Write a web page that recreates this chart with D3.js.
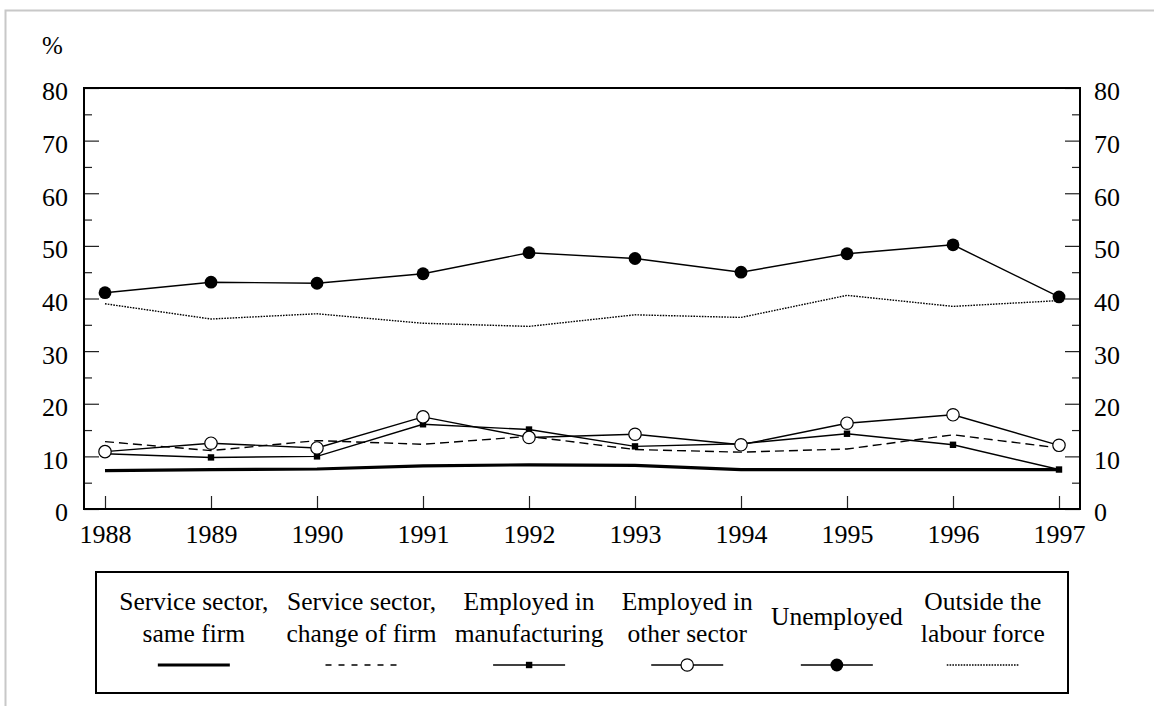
<!DOCTYPE html>
<html>
<head>
<meta charset="utf-8">
<script src="https://cdn.jsdelivr.net/npm/d3@7"></script>
<style>
  body { margin: 0; background: #fff; }
  text { font-family: "Liberation Serif", serif; }
</style>
</head>
<body>
<script>
var svgWidth = 1154;
var svgHeight = 706;
var serif = "Liberation Serif";

// data
var years = [1988, 1989, 1990, 1991, 1992, 1993, 1994, 1995, 1996, 1997];
var sameFirm      = [7.3, 7.5, 7.6, 8.2, 8.4, 8.3, 7.5, 7.5, 7.5, 7.5];
var changeFirm    = [12.8, 11.1, 13.0, 12.3, 13.8, 11.3, 10.8, 11.4, 14.1, 11.6];
var manufacturing = [10.5, 9.8, 10.0, 16.1, 15.1, 11.9, 12.4, 14.3, 12.2, 7.5];
var otherSector   = [10.9, 12.5, 11.6, 17.5, 13.6, 14.2, 12.2, 16.3, 17.9, 12.1];
var unemployed    = [41.1, 43.1, 42.9, 44.7, 48.7, 47.6, 45.0, 48.5, 50.2, 40.3];
var outsideLF     = [39.0, 36.1, 37.1, 35.3, 34.7, 36.9, 36.4, 40.6, 38.5, 39.6];

var yTicks = [0, 10, 20, 30, 40, 50, 60, 70, 80];
var yMinor = [5, 15, 25, 35, 45, 55, 65, 75];

var legendLabels = [
  ["Service sector,", "same firm"],
  ["Service sector,", "change of firm"],
  ["Employed in", "manufacturing"],
  ["Employed in", "other sector"],
  ["Unemployed"],
  ["Outside the", "labour force"]
];

// plot frame
var frame = {left: 84, right: 1080, top: 88, bottom: 509};

var series = [
  {values: sameFirm,      width: 3.2, dash: null,    marker: null},
  {values: changeFirm,    width: 1.4, dash: "9,5",   marker: null},
  {values: manufacturing, width: 1.4, dash: null,    marker: "square"},
  {values: otherSector,   width: 1.4, dash: null,    marker: "open"},
  {values: unemployed,    width: 1.4, dash: null,    marker: "filled"},
  {values: outsideLF,     width: 1.4, dash: "1.6,1.2", marker: null}
];

var svg = d3.select("body").append("svg")
  .attr("width", svgWidth)
  .attr("height", svgHeight)
  .attr("font-family", serif);

// page border (top and left)
svg.append("path")
  .attr("d", "M5.5,706 L5.5,10.5 L1154,10.5")
  .attr("fill", "none")
  .attr("stroke", "#c8c8c8")
  .attr("stroke-width", 2);

var x = d3.scaleLinear().domain([1988, 1997]).range([105, 1059]);
var y = d3.scaleLinear().domain([0, 80]).range([frame.bottom, frame.top]);

function styleAxis(g) {
  g.attr("font-family", serif).attr("font-size", 26);
  g.select(".domain").remove();
  g.selectAll(".tick line").attr("stroke", "#222").attr("stroke-width", 1.2);
  g.selectAll(".tick text").attr("font-family", serif).attr("fill", "#000");
}

// left axis
svg.append("g")
  .attr("transform", "translate(" + frame.left + ",0)")
  .call(d3.axisLeft(y).tickValues(yTicks).tickSizeInner(-15).tickSizeOuter(0).tickPadding(16))
  .call(styleAxis)
  .selectAll(".tick text").attr("dy", "0.46em");
svg.append("g")
  .attr("transform", "translate(" + frame.left + ",0)")
  .call(d3.axisLeft(y).tickValues(yMinor).tickSizeInner(-8).tickSizeOuter(0).tickFormat(""))
  .call(styleAxis);

// right axis
svg.append("g")
  .attr("transform", "translate(" + frame.right + ",0)")
  .call(d3.axisRight(y).tickValues(yTicks).tickSizeInner(-15).tickSizeOuter(0).tickPadding(14))
  .call(styleAxis)
  .selectAll(".tick text").attr("dy", "0.46em");
svg.append("g")
  .attr("transform", "translate(" + frame.right + ",0)")
  .call(d3.axisRight(y).tickValues(yMinor).tickSizeInner(-8).tickSizeOuter(0).tickFormat(""))
  .call(styleAxis);

// bottom axis
svg.append("g")
  .attr("transform", "translate(0," + frame.bottom + ")")
  .call(d3.axisBottom(x).tickValues(years).tickFormat(d3.format("d")).tickSizeInner(-13).tickSizeOuter(0).tickPadding(16))
  .call(styleAxis);

// frame
svg.append("rect")
  .attr("x", frame.left)
  .attr("y", frame.top)
  .attr("width", frame.right - frame.left)
  .attr("height", frame.bottom - frame.top)
  .attr("fill", "none")
  .attr("stroke", "#000")
  .attr("stroke-width", 2);

svg.append("text")
  .attr("x", 42)
  .attr("y", 54)
  .attr("font-size", 25)
  .text("%");

// lines
var line = d3.line()
  .x(function(d, i) { return x(years[i]); })
  .y(function(d) { return y(d); });

function drawMarker(g, type, cx, cy) {
  if (type === "square") {
    g.append("rect").attr("x", cx - 3.2).attr("y", cy - 3.2)
      .attr("width", 6.4).attr("height", 6.4).attr("fill", "#000");
  } else if (type === "open") {
    g.append("circle").attr("cx", cx).attr("cy", cy).attr("r", 6.2)
      .attr("fill", "#fff").attr("stroke", "#000").attr("stroke-width", 1.2);
  } else if (type === "filled") {
    g.append("circle").attr("cx", cx).attr("cy", cy).attr("r", 6.4)
      .attr("fill", "#000");
  }
}

var plot = svg.append("g");
series.forEach(function(s) {
  plot.append("path")
    .datum(s.values)
    .attr("d", line)
    .attr("fill", "none")
    .attr("stroke", "#000")
    .attr("stroke-width", s.width)
    .attr("stroke-dasharray", s.dash);
});
series.forEach(function(s) {
  if (!s.marker) return;
  var g = plot.append("g");
  s.values.forEach(function(v, i) {
    drawMarker(g, s.marker, x(years[i]), y(v));
  });
});

// legend
var box = {left: 96, right: 1068, top: 572, bottom: 693};
svg.append("rect")
  .attr("x", box.left)
  .attr("y", box.top)
  .attr("width", box.right - box.left)
  .attr("height", box.bottom - box.top)
  .attr("fill", "none")
  .attr("stroke", "#000")
  .attr("stroke-width", 2);

var gap = 18;
var items = [];
legendLabels.forEach(function(lines, i) {
  var g = svg.append("g");
  var t = g.append("text")
    .attr("text-anchor", "middle")
    .attr("font-size", 25.5);
  if (lines.length === 1) {
    t.append("tspan").attr("x", 0).attr("y", 625).text(lines[0]);
  } else {
    t.append("tspan").attr("x", 0).attr("y", 610).text(lines[0]);
    t.append("tspan").attr("x", 0).attr("y", 641.5).text(lines[1]);
  }
  var w = t.node().getBBox().width;
  items.push({g: g, w: w, s: series[i]});
});

var total = d3.sum(items, function(d) { return d.w; }) + gap * (items.length - 1);
var cursor = (box.left + box.right) / 2 - total / 2;
items.forEach(function(it) {
  var cx = cursor + it.w / 2;
  it.g.attr("transform", "translate(" + cx + ",0)");
  it.g.append("line")
    .attr("x1", -36).attr("x2", 36)
    .attr("y1", 665).attr("y2", 665)
    .attr("stroke", "#000")
    .attr("stroke-width", it.s.width)
    .attr("stroke-dasharray", it.s.dash === "9,5" ? "6,7" : it.s.dash);
  if (it.s.marker) drawMarker(it.g, it.s.marker, 0, 665);
  cursor += it.w + gap;
});
</script>
</body>
</html>
